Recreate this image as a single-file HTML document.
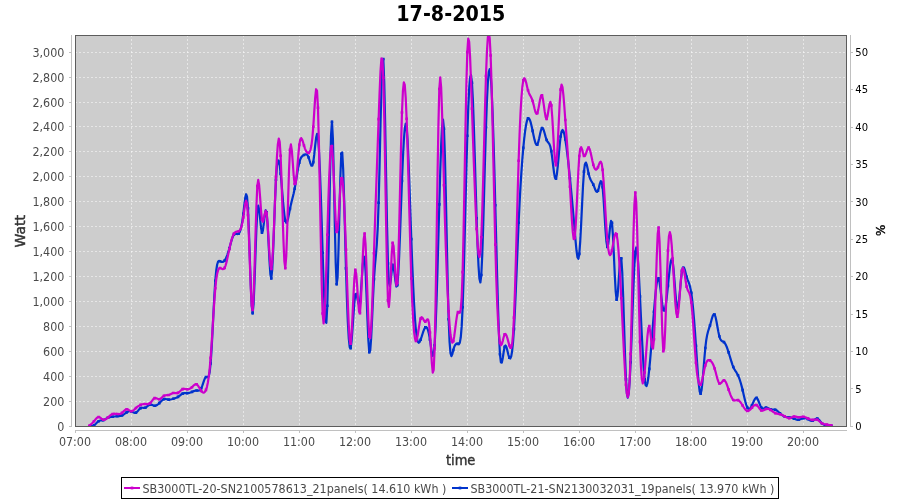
<!DOCTYPE html><html><head><meta charset="utf-8"><title>17-8-2015</title><style>html,body{margin:0;padding:0;background:#fff;width:900px;height:500px;overflow:hidden}svg{display:block}text{font-family:"DejaVu Sans","Liberation Sans",sans-serif}</style></head><body>
<svg width="900" height="500" viewBox="0 0 900 500">
<rect x="75" y="35" width="772" height="392" fill="#cdcdcd"/>
<path d="M75 401.50H847 M75 376.50H847 M75 351.50H847 M75 326.50H847 M75 301.50H847 M75 276.50H847 M75 251.50H847 M75 226.50H847 M75 201.50H847 M75 176.50H847 M75 151.50H847 M75 126.50H847 M75 102.50H847 M75 77.50H847 M75 52.50H847 M131.5 35V427 M187.5 35V427 M243.5 35V427 M299.5 35V427 M355.5 35V427 M411.5 35V427 M467.5 35V427 M523.5 35V427 M579.5 35V427 M635.5 35V427 M691.5 35V427 M747.5 35V427 M803.5 35V427" stroke="#fff" stroke-width="0.5" stroke-dasharray="2 2" fill="none"/>
<g clip-path="url(#clip)">
<path d="M89.30,426.00 L90.23,426.11 L91.17,426.17 L92.10,426.11 L93.03,425.87 L93.97,425.40 L94.90,424.67 L95.83,423.76 L96.77,422.80 L97.70,421.91 L98.63,421.20 L99.57,420.76 L100.50,420.53 L101.43,420.41 L102.37,420.30 L103.30,420.10 L104.23,419.74 L105.17,419.25 L106.10,418.71 L107.03,418.17 L107.97,417.70 L108.90,417.35 L109.83,417.10 L110.77,416.93 L111.70,416.81 L112.63,416.70 L113.57,416.59 L114.50,416.47 L115.43,416.36 L116.37,416.27 L117.30,416.20 L118.23,416.16 L119.17,416.12 L120.10,416.02 L121.03,415.83 L121.97,415.50 L122.90,415.01 L123.83,414.39 L124.77,413.71 L125.70,413.03 L126.63,412.40 L127.57,411.88 L128.50,411.49 L129.43,411.27 L130.37,411.23 L131.30,411.40 L132.23,411.77 L133.17,412.23 L134.10,412.62 L135.03,412.80 L135.97,412.60 L136.90,411.94 L137.83,410.97 L138.77,409.87 L139.70,408.85 L140.63,408.10 L141.57,407.76 L142.50,407.73 L143.43,407.82 L144.37,407.87 L145.30,407.70 L146.23,407.20 L147.17,406.47 L148.10,405.69 L149.03,405.01 L149.97,404.60 L150.90,404.58 L151.83,404.83 L152.77,405.23 L153.70,405.60 L154.63,405.80 L155.57,405.71 L156.50,405.35 L157.43,404.76 L158.37,404.00 L159.30,403.10 L160.23,402.13 L161.17,401.16 L162.10,400.28 L163.03,399.56 L163.97,399.10 L164.90,398.94 L165.83,399.01 L166.77,399.21 L167.70,399.44 L168.63,399.60 L169.57,399.61 L170.50,399.48 L171.43,399.26 L172.37,398.99 L173.30,398.70 L174.23,398.43 L175.17,398.15 L176.10,397.83 L177.03,397.42 L177.97,396.90 L178.90,396.24 L179.83,395.51 L180.77,394.77 L181.70,394.11 L182.63,393.60 L183.57,393.30 L184.50,393.16 L185.43,393.12 L186.37,393.12 L187.30,393.10 L188.23,393.00 L189.17,392.82 L190.10,392.57 L191.03,392.26 L191.97,391.90 L192.90,391.51 L193.83,391.12 L194.77,390.80 L195.70,390.57 L196.63,390.50 L197.57,390.58 L198.50,390.63 L199.43,390.40 L200.37,389.67 L201.30,388.20 L202.23,385.88 L203.17,383.09 L204.10,380.34 L205.03,378.14 L205.97,377.00 L206.90,377.09 L207.83,377.25 L208.77,376.02 L209.70,371.89 L210.63,363.40 L211.57,349.67 L212.50,332.32 L213.43,313.55 L214.37,295.61 L215.30,280.70 L216.23,270.51 L217.17,264.52 L218.10,261.67 L219.03,260.92 L219.97,261.20 L220.90,261.61 L221.83,261.88 L222.77,261.88 L223.70,261.49 L224.63,260.60 L225.57,259.11 L226.50,257.08 L227.43,254.58 L228.37,251.70 L229.30,248.50 L230.23,245.11 L231.17,241.75 L232.10,238.68 L233.03,236.18 L233.97,234.50 L234.90,233.79 L235.83,233.76 L236.77,234.01 L237.70,234.12 L238.63,233.70 L239.57,232.37 L240.50,229.91 L241.43,226.14 L242.37,220.86 L243.30,213.90 L244.23,205.55 L245.17,198.07 L246.10,194.21 L247.03,196.70 L247.97,208.30 L248.90,230.26 L249.83,257.90 L250.77,285.06 L251.70,305.58 L252.63,313.30 L253.57,304.19 L254.50,282.78 L255.43,255.74 L256.37,229.72 L257.30,211.40 L258.23,205.55 L259.17,209.42 L260.10,218.34 L261.03,227.69 L261.97,232.80 L262.90,230.48 L263.83,223.27 L264.77,215.19 L265.70,210.23 L266.63,212.40 L267.57,224.16 L268.50,241.84 L269.43,260.25 L270.37,274.21 L271.30,278.50 L272.23,269.59 L273.17,250.55 L274.10,226.09 L275.03,200.93 L275.97,179.80 L276.90,166.40 L277.83,160.41 L278.77,160.51 L279.70,165.34 L280.63,173.60 L281.57,183.95 L282.50,195.12 L283.43,205.83 L284.37,214.81 L285.30,220.80 L286.23,222.91 L287.17,221.76 L288.10,218.37 L289.03,213.74 L289.97,208.90 L290.90,204.62 L291.83,200.80 L292.77,197.09 L293.70,193.17 L294.63,188.70 L295.57,183.47 L296.50,177.80 L297.43,172.13 L298.37,166.92 L299.30,162.60 L300.23,159.51 L301.17,157.48 L302.10,156.24 L303.03,155.50 L303.97,155.00 L304.90,154.54 L305.83,154.30 L306.77,154.53 L307.70,155.51 L308.63,157.50 L309.57,160.52 L310.50,163.66 L311.43,165.74 L312.37,165.61 L313.30,162.10 L314.23,154.73 L315.17,145.67 L316.10,137.77 L317.03,133.90 L317.97,136.90 L318.90,148.81 L319.83,168.39 L320.77,193.59 L321.70,222.38 L322.63,252.70 L323.57,282.10 L324.50,306.55 L325.43,321.59 L326.37,322.79 L327.30,305.70 L328.23,268.53 L329.17,220.09 L330.10,171.84 L331.03,135.22 L331.97,121.70 L332.90,138.59 L333.83,176.67 L334.77,222.56 L335.70,262.89 L336.63,284.30 L337.57,277.52 L338.50,249.77 L339.43,212.35 L340.37,176.59 L341.30,153.80 L342.23,152.40 L343.17,169.23 L344.10,198.22 L345.03,233.30 L345.97,268.40 L346.90,298.39 L347.83,321.86 L348.77,338.30 L349.70,347.25 L350.63,348.20 L351.57,341.30 L352.50,329.22 L353.43,315.23 L354.37,302.63 L355.30,294.70 L356.23,293.63 L357.17,297.19 L358.10,302.04 L359.03,304.86 L359.97,302.30 L360.90,292.36 L361.83,278.32 L362.77,264.81 L363.70,256.43 L364.63,257.80 L365.57,271.77 L366.50,294.16 L367.43,319.01 L368.37,340.37 L369.30,352.30 L370.23,350.58 L371.17,337.95 L372.10,318.86 L373.03,297.79 L373.97,279.20 L374.90,266.14 L375.83,256.00 L376.77,244.75 L377.70,228.36 L378.63,202.80 L379.57,166.14 L380.50,124.86 L381.43,87.52 L382.37,62.71 L383.30,59.00 L384.23,81.81 L385.17,123.97 L386.10,175.17 L387.03,225.08 L387.97,263.40 L388.90,282.56 L389.83,286.04 L390.77,280.08 L391.70,270.92 L392.63,264.80 L393.57,266.26 L394.50,273.02 L395.43,281.10 L396.37,286.52 L397.30,285.30 L398.23,274.59 L399.17,256.02 L400.10,232.39 L401.03,206.46 L401.97,181.00 L402.90,158.55 L403.83,140.64 L404.77,128.60 L405.70,123.72 L406.63,127.30 L407.57,140.02 L408.50,160.04 L409.43,184.88 L410.37,212.06 L411.30,239.10 L412.23,263.89 L413.17,285.76 L414.10,304.39 L415.03,319.47 L415.97,330.70 L416.90,337.93 L417.83,341.72 L418.77,342.79 L419.70,341.87 L420.63,339.70 L421.57,336.93 L422.50,333.97 L423.43,331.17 L424.37,328.86 L425.30,327.40 L426.23,327.09 L427.17,328.06 L428.10,330.42 L429.03,334.26 L429.97,339.70 L430.90,346.43 L431.83,352.60 L432.77,355.95 L433.70,354.24 L434.63,345.20 L435.57,327.34 L436.50,302.11 L437.43,271.74 L438.37,238.43 L439.30,204.40 L440.23,172.08 L441.17,144.80 L442.10,126.12 L443.03,119.60 L443.97,128.80 L444.90,155.55 L445.83,194.76 L446.77,239.65 L447.70,283.39 L448.63,319.20 L449.57,341.93 L450.50,353.15 L451.43,356.08 L452.37,353.95 L453.30,350.00 L454.23,346.87 L455.17,344.92 L456.10,343.92 L457.03,343.66 L457.97,343.90 L458.90,344.12 L459.83,342.60 L460.77,337.29 L461.70,326.17 L462.63,307.20 L463.57,279.25 L464.50,244.78 L465.43,207.14 L466.37,169.70 L467.30,135.80 L468.23,108.37 L469.17,88.60 L470.10,77.24 L471.03,75.02 L471.97,82.70 L472.90,100.41 L473.83,125.80 L474.77,155.91 L475.70,187.76 L476.63,218.40 L477.57,245.06 L478.50,265.79 L479.43,278.85 L480.37,282.50 L481.30,275.00 L482.23,255.55 L483.17,227.12 L484.10,193.64 L485.03,159.03 L485.97,127.20 L486.90,101.50 L487.83,82.95 L488.77,71.99 L489.70,69.06 L490.63,74.60 L491.57,88.74 L492.50,110.33 L493.43,137.91 L494.37,170.02 L495.30,205.20 L496.23,241.81 L497.17,277.53 L498.10,309.85 L499.03,336.27 L499.97,354.30 L500.90,362.36 L501.83,362.58 L502.77,358.02 L503.70,351.74 L504.63,346.80 L505.57,345.52 L506.50,347.31 L507.43,350.82 L508.37,354.73 L509.30,357.70 L510.23,358.53 L511.17,356.59 L512.10,351.37 L513.03,342.37 L513.97,329.10 L514.90,311.38 L515.83,290.39 L516.77,267.61 L517.70,244.55 L518.63,222.70 L519.57,203.27 L520.50,186.32 L521.43,171.60 L522.37,158.87 L523.30,147.90 L524.23,138.50 L525.17,130.74 L526.10,124.72 L527.03,120.57 L527.97,118.40 L528.90,118.24 L529.83,119.79 L530.77,122.67 L531.70,126.50 L532.63,130.90 L533.57,135.45 L534.50,139.64 L535.43,142.93 L536.37,144.76 L537.30,144.60 L538.23,142.16 L539.17,138.23 L540.10,133.86 L541.03,130.10 L541.97,128.00 L542.90,128.30 L543.83,130.47 L544.77,133.70 L545.70,137.15 L546.63,140.00 L547.57,141.69 L548.50,142.79 L549.43,144.16 L550.37,146.65 L551.30,151.10 L552.23,157.94 L553.17,165.85 L554.10,173.11 L555.03,177.97 L555.97,178.70 L556.90,174.17 L557.83,165.74 L558.77,155.34 L559.70,144.94 L560.63,136.50 L561.57,131.55 L562.50,129.94 L563.43,131.11 L564.37,134.49 L565.30,139.50 L566.23,145.66 L567.17,152.75 L568.10,160.64 L569.03,169.21 L569.97,178.30 L570.90,187.81 L571.83,197.72 L572.77,208.01 L573.70,218.67 L574.63,229.70 L575.57,240.80 L576.50,250.52 L577.43,257.10 L578.37,258.81 L579.30,253.90 L580.23,241.45 L581.17,223.81 L582.10,204.17 L583.03,185.70 L583.97,171.60 L584.90,164.20 L585.83,162.53 L586.77,164.76 L587.70,169.09 L588.63,173.70 L589.57,177.15 L590.50,179.51 L591.43,181.24 L592.37,182.79 L593.30,184.60 L594.23,186.95 L595.17,189.39 L596.10,191.27 L597.03,191.95 L597.97,190.80 L598.90,187.59 L599.83,183.78 L600.77,181.21 L601.70,181.77 L602.63,187.30 L603.57,198.81 L604.50,213.84 L605.43,229.08 L606.37,241.21 L607.30,246.90 L608.23,244.12 L609.17,235.95 L610.10,226.75 L611.03,220.88 L611.97,222.70 L612.90,234.97 L613.83,254.05 L614.77,274.71 L615.70,291.70 L616.63,299.80 L617.57,295.64 L618.50,283.38 L619.43,269.05 L620.37,258.68 L621.30,258.30 L622.23,272.04 L623.17,296.42 L624.10,326.03 L625.03,355.49 L625.97,379.40 L626.90,393.45 L627.83,397.65 L628.77,393.11 L629.70,380.93 L630.63,362.20 L631.57,338.37 L632.50,312.26 L633.43,287.04 L634.37,265.86 L635.30,251.90 L636.23,247.48 L637.17,251.58 L638.10,262.35 L639.03,277.90 L639.97,296.40 L640.90,316.06 L641.83,335.49 L642.77,353.38 L643.70,368.42 L644.63,379.30 L645.57,385.06 L646.50,386.12 L647.43,383.26 L648.37,377.27 L649.30,368.90 L650.23,358.89 L651.17,347.72 L652.10,335.84 L653.03,323.69 L653.97,311.70 L654.90,300.38 L655.83,290.52 L656.77,282.97 L657.70,278.58 L658.63,278.20 L659.57,282.24 L660.50,289.29 L661.43,297.48 L662.37,304.97 L663.30,309.90 L664.23,310.84 L665.17,308.13 L666.10,302.56 L667.03,294.89 L667.97,285.90 L668.90,276.48 L669.83,267.90 L670.77,261.57 L671.70,258.88 L672.63,261.20 L673.57,269.23 L674.50,280.81 L675.43,293.09 L676.37,303.21 L677.30,308.30 L678.23,306.41 L679.17,299.19 L680.10,289.18 L681.03,278.93 L681.97,271.00 L682.90,267.30 L683.83,267.25 L684.77,269.64 L685.70,273.26 L686.63,276.90 L687.57,279.67 L688.50,281.96 L689.43,284.46 L690.37,287.87 L691.30,292.90 L692.23,300.07 L693.17,309.26 L694.10,320.14 L695.03,332.42 L695.97,345.80 L696.90,359.77 L697.83,373.04 L698.77,384.12 L699.70,391.54 L700.63,393.80 L701.57,390.00 L702.50,381.54 L703.43,370.40 L704.37,358.56 L705.30,348.00 L706.23,340.24 L707.17,334.93 L708.10,331.26 L709.03,328.42 L709.97,325.60 L710.90,322.24 L711.83,318.77 L712.77,315.88 L713.70,314.22 L714.63,314.50 L715.57,317.12 L716.50,321.48 L717.43,326.69 L718.37,331.89 L719.30,336.20 L720.23,338.98 L721.17,340.47 L722.10,341.17 L723.03,341.55 L723.97,342.10 L724.90,343.20 L725.83,344.86 L726.77,347.00 L727.70,349.54 L728.63,352.40 L729.57,355.48 L730.50,358.64 L731.43,361.72 L732.37,364.56 L733.30,367.00 L734.23,368.94 L735.17,370.53 L736.10,371.97 L737.03,373.46 L737.97,375.20 L738.90,377.37 L739.83,379.96 L740.77,382.97 L741.70,386.36 L742.63,390.10 L743.57,394.13 L744.50,398.18 L745.43,401.96 L746.37,405.17 L747.30,407.50 L748.23,408.73 L749.17,408.95 L750.10,408.32 L751.03,407.02 L751.97,405.20 L752.90,403.07 L753.83,400.94 L754.77,399.14 L755.70,398.01 L756.63,397.90 L757.57,399.01 L758.50,400.99 L759.43,403.39 L760.37,405.71 L761.30,407.50 L762.23,408.40 L763.17,408.57 L764.10,408.30 L765.03,407.88 L765.97,407.60 L766.90,407.67 L767.83,408.02 L768.77,408.51 L769.70,409.02 L770.63,409.40 L771.57,409.56 L772.50,409.55 L773.43,409.51 L774.37,409.52 L775.30,409.70 L776.23,410.13 L777.17,410.77 L778.10,411.56 L779.03,412.43 L779.97,413.30 L780.90,414.12 L781.83,414.87 L782.77,415.53 L783.70,416.08 L784.63,416.50 L785.57,416.79 L786.50,416.97 L787.43,417.09 L788.37,417.19 L789.30,417.30 L790.23,417.46 L791.17,417.68 L792.10,417.94 L793.03,418.25 L793.97,418.60 L794.90,418.98 L795.83,419.34 L796.77,419.64 L797.70,419.81 L798.63,419.80 L799.57,419.58 L800.50,419.22 L801.43,418.79 L802.37,418.39 L803.30,418.10 L804.23,417.99 L805.17,418.05 L806.10,418.27 L807.03,418.63 L807.97,419.10 L808.90,419.65 L809.83,420.20 L810.77,420.64 L811.70,420.87 L812.63,420.80 L813.57,420.37 L814.50,419.74 L815.43,419.10 L816.37,418.66 L817.30,418.60 L818.23,419.07 L819.17,419.95 L820.10,421.07 L821.03,422.25 L821.97,423.30 L822.90,424.09 L823.83,424.65 L824.77,425.01 L825.70,425.24 L826.63,425.40 L827.57,425.53 L828.50,425.63 L829.43,425.73 L830.37,425.82 L831.30,425.90" fill="none" stroke="#0033cc" stroke-width="2.2" stroke-linejoin="round" stroke-linecap="round"/>
<path d="M92.67 424.10h2.6v2.6h-2.6zM97.33 419.90h2.6v2.6h-2.6zM102.00 418.80h2.6v2.6h-2.6zM106.67 416.40h2.6v2.6h-2.6zM111.33 415.40h2.6v2.6h-2.6zM116.00 414.90h2.6v2.6h-2.6zM120.67 414.20h2.6v2.6h-2.6zM125.33 411.10h2.6v2.6h-2.6zM130.00 410.10h2.6v2.6h-2.6zM134.67 411.30h2.6v2.6h-2.6zM139.33 406.80h2.6v2.6h-2.6zM144.00 406.40h2.6v2.6h-2.6zM148.67 403.30h2.6v2.6h-2.6zM153.33 404.50h2.6v2.6h-2.6zM158.00 401.80h2.6v2.6h-2.6zM162.67 397.80h2.6v2.6h-2.6zM167.33 398.30h2.6v2.6h-2.6zM172.00 397.40h2.6v2.6h-2.6zM176.67 395.60h2.6v2.6h-2.6zM181.33 392.30h2.6v2.6h-2.6zM186.00 391.80h2.6v2.6h-2.6zM190.67 390.60h2.6v2.6h-2.6zM195.33 389.20h2.6v2.6h-2.6zM200.00 386.90h2.6v2.6h-2.6zM204.67 375.70h2.6v2.6h-2.6zM209.33 362.10h2.6v2.6h-2.6zM214.00 279.40h2.6v2.6h-2.6zM218.67 259.90h2.6v2.6h-2.6zM223.33 259.30h2.6v2.6h-2.6zM228.00 247.20h2.6v2.6h-2.6zM232.67 233.20h2.6v2.6h-2.6zM237.33 232.40h2.6v2.6h-2.6zM242.00 212.60h2.6v2.6h-2.6zM246.67 207.00h2.6v2.6h-2.6zM251.33 312.00h2.6v2.6h-2.6zM256.00 210.10h2.6v2.6h-2.6zM260.67 231.50h2.6v2.6h-2.6zM265.33 211.10h2.6v2.6h-2.6zM270.00 277.20h2.6v2.6h-2.6zM274.67 178.50h2.6v2.6h-2.6zM279.33 172.30h2.6v2.6h-2.6zM284.00 219.50h2.6v2.6h-2.6zM288.67 207.60h2.6v2.6h-2.6zM293.33 187.40h2.6v2.6h-2.6zM298.00 161.30h2.6v2.6h-2.6zM302.67 153.70h2.6v2.6h-2.6zM307.33 156.20h2.6v2.6h-2.6zM312.00 160.80h2.6v2.6h-2.6zM316.67 135.60h2.6v2.6h-2.6zM321.33 251.40h2.6v2.6h-2.6zM326.00 304.40h2.6v2.6h-2.6zM330.67 120.40h2.6v2.6h-2.6zM335.33 283.00h2.6v2.6h-2.6zM340.00 152.50h2.6v2.6h-2.6zM344.67 267.10h2.6v2.6h-2.6zM349.33 346.90h2.6v2.6h-2.6zM354.00 293.40h2.6v2.6h-2.6zM358.67 301.00h2.6v2.6h-2.6zM363.33 256.50h2.6v2.6h-2.6zM368.00 351.00h2.6v2.6h-2.6zM372.67 277.90h2.6v2.6h-2.6zM377.33 201.50h2.6v2.6h-2.6zM382.00 57.70h2.6v2.6h-2.6zM386.67 262.10h2.6v2.6h-2.6zM391.33 263.50h2.6v2.6h-2.6zM396.00 284.00h2.6v2.6h-2.6zM400.67 179.70h2.6v2.6h-2.6zM405.33 126.00h2.6v2.6h-2.6zM410.00 237.80h2.6v2.6h-2.6zM414.67 329.40h2.6v2.6h-2.6zM419.33 338.40h2.6v2.6h-2.6zM424.00 326.10h2.6v2.6h-2.6zM428.67 338.40h2.6v2.6h-2.6zM433.33 343.90h2.6v2.6h-2.6zM438.00 203.10h2.6v2.6h-2.6zM442.67 127.50h2.6v2.6h-2.6zM447.33 317.90h2.6v2.6h-2.6zM452.00 348.70h2.6v2.6h-2.6zM456.67 342.60h2.6v2.6h-2.6zM461.33 305.90h2.6v2.6h-2.6zM466.00 134.50h2.6v2.6h-2.6zM470.67 81.40h2.6v2.6h-2.6zM475.33 217.10h2.6v2.6h-2.6zM480.00 273.70h2.6v2.6h-2.6zM484.67 125.90h2.6v2.6h-2.6zM489.33 73.30h2.6v2.6h-2.6zM494.00 203.90h2.6v2.6h-2.6zM498.67 353.00h2.6v2.6h-2.6zM503.33 345.50h2.6v2.6h-2.6zM508.00 356.40h2.6v2.6h-2.6zM512.67 327.80h2.6v2.6h-2.6zM517.33 221.40h2.6v2.6h-2.6zM522.00 146.60h2.6v2.6h-2.6zM526.67 117.10h2.6v2.6h-2.6zM531.33 129.60h2.6v2.6h-2.6zM536.00 143.30h2.6v2.6h-2.6zM540.67 126.70h2.6v2.6h-2.6zM545.33 138.70h2.6v2.6h-2.6zM550.00 149.80h2.6v2.6h-2.6zM554.67 177.40h2.6v2.6h-2.6zM559.33 135.20h2.6v2.6h-2.6zM564.00 138.20h2.6v2.6h-2.6zM568.67 177.00h2.6v2.6h-2.6zM573.33 228.40h2.6v2.6h-2.6zM578.00 252.60h2.6v2.6h-2.6zM582.67 170.30h2.6v2.6h-2.6zM587.33 172.40h2.6v2.6h-2.6zM592.00 183.30h2.6v2.6h-2.6zM596.67 189.50h2.6v2.6h-2.6zM601.33 186.00h2.6v2.6h-2.6zM606.00 245.60h2.6v2.6h-2.6zM610.67 221.40h2.6v2.6h-2.6zM615.33 298.50h2.6v2.6h-2.6zM620.00 257.00h2.6v2.6h-2.6zM624.67 378.10h2.6v2.6h-2.6zM629.33 360.90h2.6v2.6h-2.6zM634.00 250.60h2.6v2.6h-2.6zM638.67 295.10h2.6v2.6h-2.6zM643.33 378.00h2.6v2.6h-2.6zM648.00 367.60h2.6v2.6h-2.6zM652.67 310.40h2.6v2.6h-2.6zM657.33 276.90h2.6v2.6h-2.6zM662.00 308.60h2.6v2.6h-2.6zM666.67 284.60h2.6v2.6h-2.6zM671.33 259.90h2.6v2.6h-2.6zM676.00 307.00h2.6v2.6h-2.6zM680.67 269.70h2.6v2.6h-2.6zM685.33 275.60h2.6v2.6h-2.6zM690.00 291.60h2.6v2.6h-2.6zM694.67 344.50h2.6v2.6h-2.6zM699.33 392.50h2.6v2.6h-2.6zM704.00 346.70h2.6v2.6h-2.6zM708.67 324.30h2.6v2.6h-2.6zM713.33 313.20h2.6v2.6h-2.6zM718.00 334.90h2.6v2.6h-2.6zM722.67 340.80h2.6v2.6h-2.6zM727.33 351.10h2.6v2.6h-2.6zM732.00 365.70h2.6v2.6h-2.6zM736.67 373.90h2.6v2.6h-2.6zM741.33 388.80h2.6v2.6h-2.6zM746.00 406.20h2.6v2.6h-2.6zM750.67 403.90h2.6v2.6h-2.6zM755.33 396.60h2.6v2.6h-2.6zM760.00 406.20h2.6v2.6h-2.6zM764.67 406.30h2.6v2.6h-2.6zM769.33 408.10h2.6v2.6h-2.6zM774.00 408.40h2.6v2.6h-2.6zM778.67 412.00h2.6v2.6h-2.6zM783.33 415.20h2.6v2.6h-2.6zM788.00 416.00h2.6v2.6h-2.6zM792.67 417.30h2.6v2.6h-2.6zM797.33 418.50h2.6v2.6h-2.6zM802.00 416.80h2.6v2.6h-2.6zM806.67 417.80h2.6v2.6h-2.6zM811.33 419.50h2.6v2.6h-2.6zM816.00 417.30h2.6v2.6h-2.6zM820.67 422.00h2.6v2.6h-2.6zM825.33 424.10h2.6v2.6h-2.6zM830.00 424.60h2.6v2.6h-2.6z" fill="#0033cc"/>
<path d="M89.30,425.70 L90.23,424.93 L91.17,424.13 L92.10,423.28 L93.03,422.35 L93.97,421.30 L94.90,420.15 L95.83,419.00 L96.77,417.99 L97.70,417.28 L98.63,417.00 L99.57,417.24 L100.50,417.84 L101.43,418.60 L102.37,419.33 L103.30,419.80 L104.23,419.87 L105.17,419.57 L106.10,419.00 L107.03,418.24 L107.97,417.40 L108.90,416.55 L109.83,415.74 L110.77,415.01 L111.70,414.42 L112.63,414.00 L113.57,413.78 L114.50,413.72 L115.43,413.78 L116.37,413.89 L117.30,414.00 L118.23,414.06 L119.17,414.03 L120.10,413.85 L121.03,413.49 L121.97,412.90 L122.90,412.07 L123.83,411.12 L124.77,410.22 L125.70,409.53 L126.63,409.20 L127.57,409.34 L128.50,409.81 L129.43,410.41 L130.37,410.94 L131.30,411.20 L132.23,411.04 L133.17,410.53 L134.10,409.77 L135.03,408.89 L135.97,408.00 L136.90,407.19 L137.83,406.48 L138.77,405.87 L139.70,405.34 L140.63,404.90 L141.57,404.54 L142.50,404.27 L143.43,404.08 L144.37,403.99 L145.30,404.00 L146.23,404.09 L147.17,404.18 L148.10,404.15 L149.03,403.90 L149.97,403.30 L150.90,402.31 L151.83,401.08 L152.77,399.82 L153.70,398.76 L154.63,398.10 L155.57,397.99 L156.50,398.26 L157.43,398.71 L158.37,399.10 L159.30,399.20 L160.23,398.86 L161.17,398.18 L162.10,397.33 L163.03,396.48 L163.97,395.80 L164.90,395.41 L165.83,395.25 L166.77,395.20 L167.70,395.16 L168.63,395.00 L169.57,394.66 L170.50,394.18 L171.43,393.69 L172.37,393.26 L173.30,393.00 L174.23,392.97 L175.17,393.07 L176.10,393.18 L177.03,393.17 L177.97,392.90 L178.90,392.29 L179.83,391.46 L180.77,390.54 L181.70,389.71 L182.63,389.10 L183.57,388.83 L184.50,388.83 L185.43,388.99 L186.37,389.18 L187.30,389.30 L188.23,389.25 L189.17,389.01 L190.10,388.59 L191.03,387.99 L191.97,387.20 L192.90,386.26 L193.83,385.32 L194.77,384.56 L195.70,384.16 L196.63,384.30 L197.57,385.09 L198.50,386.37 L199.43,387.94 L200.37,389.55 L201.30,391.00 L202.23,392.08 L203.17,392.63 L204.10,392.54 L205.03,391.68 L205.97,389.90 L206.90,387.04 L207.83,382.78 L208.77,376.75 L209.70,368.58 L210.63,357.90 L211.57,344.62 L212.50,329.75 L213.43,314.55 L214.37,300.31 L215.30,288.30 L216.23,279.49 L217.17,273.62 L218.10,270.13 L219.03,268.44 L219.97,268.00 L220.90,268.26 L221.83,268.79 L222.77,269.18 L223.70,269.02 L224.63,267.90 L225.57,265.54 L226.50,262.15 L227.43,258.07 L228.37,253.64 L229.30,249.20 L230.23,245.05 L231.17,241.31 L232.10,238.10 L233.03,235.50 L233.97,233.60 L234.90,232.45 L235.83,231.87 L236.77,231.62 L237.70,231.48 L238.63,231.20 L239.57,230.54 L240.50,229.17 L241.43,226.75 L242.37,222.94 L243.30,217.40 L244.23,210.29 L245.17,203.80 L246.10,200.62 L247.03,203.46 L247.97,215.00 L248.90,236.45 L249.83,262.98 L250.77,288.30 L251.70,306.07 L252.63,310.00 L253.57,296.05 L254.50,269.30 L255.43,237.15 L256.37,206.96 L257.30,186.10 L258.23,179.87 L259.17,185.24 L260.10,197.10 L261.03,210.32 L261.97,219.80 L262.90,221.87 L263.83,218.66 L264.77,213.74 L265.70,210.70 L266.63,213.10 L267.57,223.22 L268.50,238.12 L269.43,253.55 L270.37,265.26 L271.30,269.00 L272.23,261.78 L273.17,245.64 L274.10,223.88 L275.03,199.80 L275.97,176.70 L276.90,157.59 L277.83,144.35 L278.77,138.56 L279.70,141.81 L280.63,155.70 L281.57,180.43 L282.50,210.72 L283.43,239.89 L284.37,261.27 L285.30,268.20 L286.23,256.38 L287.17,231.03 L288.10,199.77 L289.03,170.19 L289.97,149.90 L290.90,144.34 L291.83,150.33 L292.77,162.50 L293.70,175.51 L294.63,184.00 L295.57,184.01 L296.50,177.13 L297.43,166.33 L298.37,154.60 L299.30,144.90 L300.23,139.53 L301.17,138.04 L302.10,139.30 L303.03,142.16 L303.97,145.50 L304.90,148.37 L305.83,150.56 L306.77,152.05 L307.70,152.84 L308.63,152.90 L309.57,152.10 L310.50,149.81 L311.43,145.31 L312.37,137.85 L313.30,126.70 L314.23,112.07 L315.17,97.93 L316.10,89.22 L317.03,90.87 L317.97,107.80 L318.90,142.70 L319.83,189.26 L320.77,238.95 L321.70,283.21 L322.63,313.50 L323.57,323.50 L324.50,315.81 L325.43,295.25 L326.37,266.64 L327.30,234.80 L328.23,204.16 L329.17,177.54 L330.10,157.36 L331.03,146.04 L331.97,146.00 L332.90,158.32 L333.83,178.71 L334.77,201.54 L335.70,221.18 L336.63,232.00 L337.57,230.14 L338.50,218.83 L339.43,203.07 L340.37,187.86 L341.30,178.20 L342.23,177.99 L343.17,186.68 L344.10,202.61 L345.03,224.14 L345.97,249.60 L346.90,277.07 L347.83,303.51 L348.77,325.62 L349.70,340.09 L350.63,343.60 L351.57,334.36 L352.50,316.62 L353.43,296.13 L354.37,278.64 L355.30,269.90 L356.23,273.71 L357.17,285.98 L358.10,300.67 L359.03,311.72 L359.97,313.10 L360.90,300.91 L361.83,279.93 L362.77,257.08 L363.70,239.29 L364.63,233.50 L365.57,244.31 L366.50,267.02 L367.43,294.62 L368.37,320.08 L369.30,336.40 L370.23,338.29 L371.17,327.47 L372.10,307.38 L373.03,281.47 L373.97,253.20 L374.90,225.39 L375.83,198.37 L376.77,171.84 L377.70,145.52 L378.63,119.10 L379.57,93.11 L380.50,71.36 L381.43,58.44 L382.37,58.98 L383.30,77.60 L384.23,116.48 L385.17,168.12 L386.10,222.61 L387.03,270.01 L387.97,300.40 L388.90,307.01 L389.83,295.61 L390.77,275.16 L391.70,254.58 L392.63,242.80 L393.57,246.00 L394.50,259.27 L395.43,274.97 L396.37,285.43 L397.30,283.00 L398.23,262.44 L399.17,228.22 L400.10,187.23 L401.03,146.36 L401.97,112.50 L402.90,91.17 L403.83,82.44 L404.77,85.00 L405.70,97.56 L406.63,118.80 L407.57,147.18 L408.50,180.14 L409.43,214.88 L410.37,248.60 L411.30,278.50 L412.23,302.32 L413.17,320.00 L414.10,332.02 L415.03,338.86 L415.97,341.00 L416.90,339.09 L417.83,334.43 L418.77,328.48 L419.70,322.72 L420.63,318.60 L421.57,317.18 L422.50,317.82 L423.43,319.49 L424.37,321.13 L425.30,321.70 L426.23,320.64 L427.17,319.32 L428.10,319.61 L429.03,323.38 L429.97,332.50 L430.90,347.42 L431.83,363.01 L432.77,372.72 L433.70,369.99 L434.63,348.30 L435.57,303.99 L436.50,245.03 L437.43,182.30 L438.37,126.67 L439.30,89.00 L440.23,77.25 L441.17,87.67 L442.10,113.59 L443.03,148.36 L443.97,185.30 L444.90,218.88 L445.83,248.13 L446.77,273.20 L447.70,294.23 L448.63,311.40 L449.57,324.82 L450.50,334.52 L451.43,340.48 L452.37,342.71 L453.30,341.20 L454.23,336.21 L455.17,329.14 L456.10,321.66 L457.03,315.42 L457.97,312.10 L458.90,312.36 L459.83,312.84 L460.77,309.20 L461.70,297.07 L462.63,272.10 L463.57,231.93 L464.50,182.20 L465.43,130.56 L466.37,84.65 L467.30,52.10 L468.23,38.57 L469.17,41.75 L470.10,57.35 L471.03,81.07 L471.97,108.60 L472.90,136.26 L473.83,162.79 L474.77,187.51 L475.70,209.77 L476.63,228.90 L477.57,244.11 L478.50,254.04 L479.43,257.19 L480.37,252.08 L481.30,237.20 L482.23,211.96 L483.17,179.35 L484.10,143.25 L485.03,107.54 L485.97,76.10 L486.90,52.31 L487.83,37.52 L488.77,32.56 L489.70,38.27 L490.63,55.50 L491.57,84.28 L492.50,121.50 L493.43,163.24 L494.37,205.57 L495.30,244.60 L496.23,277.12 L497.17,302.80 L498.10,322.04 L499.03,335.25 L499.97,342.80 L500.90,345.30 L501.83,344.13 L502.77,340.87 L503.70,337.10 L504.63,334.40 L505.57,333.98 L506.50,335.53 L507.43,338.39 L508.37,341.87 L509.30,345.30 L510.23,347.84 L511.17,348.00 L512.10,344.12 L513.03,334.54 L513.97,317.60 L514.90,292.42 L515.83,261.19 L516.77,226.85 L517.70,192.37 L518.63,160.70 L519.57,134.25 L520.50,113.28 L521.43,97.49 L522.37,86.59 L523.30,80.30 L524.23,78.18 L525.17,79.24 L526.10,82.35 L527.03,86.38 L527.97,90.20 L528.90,92.96 L529.83,94.90 L530.77,96.54 L531.70,98.40 L532.63,101.00 L533.57,104.62 L534.50,108.57 L535.43,111.95 L536.37,113.83 L537.30,113.30 L538.23,109.86 L539.17,104.71 L540.10,99.47 L541.03,95.76 L541.97,95.20 L542.90,98.79 L543.83,105.06 L544.77,111.91 L545.70,117.26 L546.63,119.00 L547.57,115.89 L548.50,110.03 L549.43,104.36 L550.37,101.84 L551.30,105.40 L552.23,116.78 L553.17,132.82 L554.10,149.15 L555.03,161.40 L555.97,165.20 L556.90,157.66 L557.83,141.82 L558.77,122.19 L559.70,103.27 L560.63,89.60 L561.57,84.57 L562.50,87.20 L563.43,95.38 L564.37,107.01 L565.30,120.00 L566.23,132.68 L567.17,145.16 L568.10,157.97 L569.03,171.63 L569.97,186.70 L570.90,203.19 L571.83,219.11 L572.77,231.94 L573.70,239.17 L574.63,238.30 L575.57,227.86 L576.50,210.61 L577.43,190.34 L578.37,170.87 L579.30,156.00 L580.23,148.51 L581.17,147.08 L582.10,149.39 L583.03,153.11 L583.97,155.90 L584.90,156.02 L585.83,154.06 L586.77,151.21 L587.70,148.66 L588.63,147.60 L589.57,148.88 L590.50,152.03 L591.43,156.27 L592.37,160.79 L593.30,164.80 L594.23,167.65 L595.17,169.26 L596.10,169.68 L597.03,168.97 L597.97,167.20 L598.90,164.63 L599.83,162.33 L600.77,161.58 L601.70,163.68 L602.63,169.90 L603.57,180.98 L604.50,195.49 L605.43,211.44 L606.37,226.87 L607.30,239.80 L608.23,248.67 L609.17,253.60 L610.10,255.17 L611.03,253.92 L611.97,250.40 L612.90,245.30 L613.83,239.83 L614.77,235.30 L615.70,233.05 L616.63,234.40 L617.57,240.34 L618.50,250.46 L619.43,264.00 L620.37,280.20 L621.30,298.30 L622.23,317.50 L623.17,336.81 L624.10,355.18 L625.03,371.55 L625.97,384.90 L626.90,394.04 L627.83,397.31 L628.77,392.91 L629.70,379.04 L630.63,353.90 L631.57,317.27 L632.50,275.19 L633.43,235.29 L634.37,205.19 L635.30,192.50 L636.23,202.33 L637.17,229.69 L638.10,267.08 L639.03,306.98 L639.97,341.90 L640.90,365.88 L641.83,379.14 L642.77,383.48 L643.70,380.67 L644.63,372.50 L645.57,360.85 L646.50,348.00 L647.43,336.33 L648.37,328.24 L649.30,326.10 L650.23,331.11 L651.17,339.70 L652.10,347.10 L653.03,348.56 L653.97,339.30 L654.90,316.66 L655.83,286.36 L656.77,256.19 L657.70,233.97 L658.63,227.50 L659.57,241.76 L660.50,270.42 L661.43,304.32 L662.37,334.30 L663.30,351.20 L664.23,348.52 L665.17,330.36 L666.10,303.47 L667.03,274.60 L667.97,250.50 L668.90,236.49 L669.83,232.16 L670.77,235.63 L671.70,245.07 L672.63,258.60 L673.57,274.33 L674.50,290.16 L675.43,303.95 L676.37,313.54 L677.30,316.80 L678.23,312.43 L679.17,302.59 L680.10,290.28 L681.03,278.52 L681.97,270.30 L682.90,267.83 L683.83,270.08 L684.77,275.18 L685.70,281.31 L686.63,286.60 L687.57,289.74 L688.50,291.55 L689.43,293.37 L690.37,296.54 L691.30,302.40 L692.23,311.85 L693.17,323.97 L694.10,337.39 L695.03,350.76 L695.97,362.70 L696.90,372.10 L697.83,378.86 L698.77,383.10 L699.70,384.97 L700.63,384.60 L701.57,382.23 L702.50,378.44 L703.43,373.92 L704.37,369.35 L705.30,365.40 L706.23,362.61 L707.17,360.92 L708.10,360.13 L709.03,360.02 L709.97,360.40 L710.90,361.10 L711.83,362.18 L712.77,363.71 L713.70,365.78 L714.63,368.50 L715.57,371.85 L716.50,375.48 L717.43,378.91 L718.37,381.71 L719.30,383.40 L720.23,383.70 L721.17,382.99 L722.10,381.81 L723.03,380.70 L723.97,380.20 L724.90,380.73 L725.83,382.17 L726.77,384.29 L727.70,386.85 L728.63,389.60 L729.57,392.32 L730.50,394.86 L731.43,397.07 L732.37,398.83 L733.30,400.00 L734.23,400.50 L735.17,400.51 L736.10,400.29 L737.03,400.07 L737.97,400.10 L738.90,400.57 L739.83,401.44 L740.77,402.62 L741.70,404.00 L742.63,405.50 L743.57,407.02 L744.50,408.44 L745.43,409.65 L746.37,410.54 L747.30,411.00 L748.23,410.95 L749.17,410.47 L750.10,409.67 L751.03,408.68 L751.97,407.60 L752.90,406.56 L753.83,405.67 L754.77,405.05 L755.70,404.82 L756.63,405.10 L757.57,405.94 L758.50,407.16 L759.43,408.49 L760.37,409.69 L761.30,410.50 L762.23,410.74 L763.17,410.53 L764.10,410.04 L765.03,409.47 L765.97,409.00 L766.90,408.78 L767.83,408.81 L768.77,409.04 L769.70,409.46 L770.63,410.00 L771.57,410.64 L772.50,411.32 L773.43,411.99 L774.37,412.60 L775.30,413.10 L776.23,413.44 L777.17,413.67 L778.10,413.84 L779.03,414.00 L779.97,414.20 L780.90,414.49 L781.83,414.85 L782.77,415.29 L783.70,415.78 L784.63,416.30 L785.57,416.84 L786.50,417.35 L787.43,417.77 L788.37,418.04 L789.30,418.10 L790.23,417.93 L791.17,417.60 L792.10,417.20 L793.03,416.83 L793.97,416.60 L794.90,416.57 L795.83,416.69 L796.77,416.89 L797.70,417.08 L798.63,417.20 L799.57,417.18 L800.50,417.07 L801.43,416.92 L802.37,416.81 L803.30,416.80 L804.23,416.93 L805.17,417.19 L806.10,417.54 L807.03,417.95 L807.97,418.40 L808.90,418.84 L809.83,419.25 L810.77,419.58 L811.70,419.81 L812.63,419.90 L813.57,419.84 L814.50,419.70 L815.43,419.58 L816.37,419.58 L817.30,419.80 L818.23,420.30 L819.17,421.01 L820.10,421.82 L821.03,422.62 L821.97,423.30 L822.90,423.78 L823.83,424.09 L824.77,424.28 L825.70,424.39 L826.63,424.50 L827.57,424.63 L828.50,424.80 L829.43,424.99 L830.37,425.19 L831.30,425.40" fill="none" stroke="#cc00cc" stroke-width="2.2" stroke-linejoin="round" stroke-linecap="round"/>
<path d="M88.00 424.40h2.6v2.6h-2.6zM92.67 420.00h2.6v2.6h-2.6zM97.33 415.70h2.6v2.6h-2.6zM102.00 418.50h2.6v2.6h-2.6zM106.67 416.10h2.6v2.6h-2.6zM111.33 412.70h2.6v2.6h-2.6zM116.00 412.70h2.6v2.6h-2.6zM120.67 411.60h2.6v2.6h-2.6zM125.33 407.90h2.6v2.6h-2.6zM130.00 409.90h2.6v2.6h-2.6zM134.67 406.70h2.6v2.6h-2.6zM139.33 403.60h2.6v2.6h-2.6zM144.00 402.70h2.6v2.6h-2.6zM148.67 402.00h2.6v2.6h-2.6zM153.33 396.80h2.6v2.6h-2.6zM158.00 397.90h2.6v2.6h-2.6zM162.67 394.50h2.6v2.6h-2.6zM167.33 393.70h2.6v2.6h-2.6zM172.00 391.70h2.6v2.6h-2.6zM176.67 391.60h2.6v2.6h-2.6zM181.33 387.80h2.6v2.6h-2.6zM186.00 388.00h2.6v2.6h-2.6zM190.67 385.90h2.6v2.6h-2.6zM195.33 383.00h2.6v2.6h-2.6zM200.00 389.70h2.6v2.6h-2.6zM204.67 388.60h2.6v2.6h-2.6zM209.33 356.60h2.6v2.6h-2.6zM214.00 287.00h2.6v2.6h-2.6zM218.67 266.70h2.6v2.6h-2.6zM223.33 266.60h2.6v2.6h-2.6zM228.00 247.90h2.6v2.6h-2.6zM232.67 232.30h2.6v2.6h-2.6zM237.33 229.90h2.6v2.6h-2.6zM242.00 216.10h2.6v2.6h-2.6zM246.67 213.70h2.6v2.6h-2.6zM251.33 308.70h2.6v2.6h-2.6zM256.00 184.80h2.6v2.6h-2.6zM260.67 218.50h2.6v2.6h-2.6zM265.33 211.80h2.6v2.6h-2.6zM270.00 267.70h2.6v2.6h-2.6zM274.67 175.40h2.6v2.6h-2.6zM279.33 154.40h2.6v2.6h-2.6zM284.00 266.90h2.6v2.6h-2.6zM288.67 148.60h2.6v2.6h-2.6zM293.33 182.70h2.6v2.6h-2.6zM298.00 143.60h2.6v2.6h-2.6zM302.67 144.20h2.6v2.6h-2.6zM307.33 151.60h2.6v2.6h-2.6zM312.00 125.40h2.6v2.6h-2.6zM316.67 106.50h2.6v2.6h-2.6zM321.33 312.20h2.6v2.6h-2.6zM326.00 233.50h2.6v2.6h-2.6zM330.67 144.70h2.6v2.6h-2.6zM335.33 230.70h2.6v2.6h-2.6zM340.00 176.90h2.6v2.6h-2.6zM344.67 248.30h2.6v2.6h-2.6zM349.33 342.30h2.6v2.6h-2.6zM354.00 268.60h2.6v2.6h-2.6zM358.67 311.80h2.6v2.6h-2.6zM363.33 232.20h2.6v2.6h-2.6zM368.00 335.10h2.6v2.6h-2.6zM372.67 251.90h2.6v2.6h-2.6zM377.33 117.80h2.6v2.6h-2.6zM382.00 76.30h2.6v2.6h-2.6zM386.67 299.10h2.6v2.6h-2.6zM391.33 241.50h2.6v2.6h-2.6zM396.00 281.70h2.6v2.6h-2.6zM400.67 111.20h2.6v2.6h-2.6zM405.33 117.50h2.6v2.6h-2.6zM410.00 277.20h2.6v2.6h-2.6zM414.67 339.70h2.6v2.6h-2.6zM419.33 317.30h2.6v2.6h-2.6zM424.00 320.40h2.6v2.6h-2.6zM428.67 331.20h2.6v2.6h-2.6zM433.33 347.00h2.6v2.6h-2.6zM438.00 87.70h2.6v2.6h-2.6zM442.67 184.00h2.6v2.6h-2.6zM447.33 310.10h2.6v2.6h-2.6zM452.00 339.90h2.6v2.6h-2.6zM456.67 310.80h2.6v2.6h-2.6zM461.33 270.80h2.6v2.6h-2.6zM466.00 50.80h2.6v2.6h-2.6zM470.67 107.30h2.6v2.6h-2.6zM475.33 227.60h2.6v2.6h-2.6zM480.00 235.90h2.6v2.6h-2.6zM484.67 74.80h2.6v2.6h-2.6zM489.33 54.20h2.6v2.6h-2.6zM494.00 243.30h2.6v2.6h-2.6zM498.67 341.50h2.6v2.6h-2.6zM503.33 333.10h2.6v2.6h-2.6zM508.00 344.00h2.6v2.6h-2.6zM512.67 316.30h2.6v2.6h-2.6zM517.33 159.40h2.6v2.6h-2.6zM522.00 79.00h2.6v2.6h-2.6zM526.67 88.90h2.6v2.6h-2.6zM531.33 99.70h2.6v2.6h-2.6zM536.00 112.00h2.6v2.6h-2.6zM540.67 93.90h2.6v2.6h-2.6zM545.33 117.70h2.6v2.6h-2.6zM550.00 104.10h2.6v2.6h-2.6zM554.67 163.90h2.6v2.6h-2.6zM559.33 88.30h2.6v2.6h-2.6zM564.00 118.70h2.6v2.6h-2.6zM568.67 185.40h2.6v2.6h-2.6zM573.33 237.00h2.6v2.6h-2.6zM578.00 154.70h2.6v2.6h-2.6zM582.67 154.60h2.6v2.6h-2.6zM587.33 146.30h2.6v2.6h-2.6zM592.00 163.50h2.6v2.6h-2.6zM596.67 165.90h2.6v2.6h-2.6zM601.33 168.60h2.6v2.6h-2.6zM606.00 238.50h2.6v2.6h-2.6zM610.67 249.10h2.6v2.6h-2.6zM615.33 233.10h2.6v2.6h-2.6zM620.00 297.00h2.6v2.6h-2.6zM624.67 383.60h2.6v2.6h-2.6zM629.33 352.60h2.6v2.6h-2.6zM634.00 191.20h2.6v2.6h-2.6zM638.67 340.60h2.6v2.6h-2.6zM643.33 371.20h2.6v2.6h-2.6zM648.00 324.80h2.6v2.6h-2.6zM652.67 338.00h2.6v2.6h-2.6zM657.33 226.20h2.6v2.6h-2.6zM662.00 349.90h2.6v2.6h-2.6zM666.67 249.20h2.6v2.6h-2.6zM671.33 257.30h2.6v2.6h-2.6zM676.00 315.50h2.6v2.6h-2.6zM680.67 269.00h2.6v2.6h-2.6zM685.33 285.30h2.6v2.6h-2.6zM690.00 301.10h2.6v2.6h-2.6zM694.67 361.40h2.6v2.6h-2.6zM699.33 383.30h2.6v2.6h-2.6zM704.00 364.10h2.6v2.6h-2.6zM708.67 359.10h2.6v2.6h-2.6zM713.33 367.20h2.6v2.6h-2.6zM718.00 382.10h2.6v2.6h-2.6zM722.67 378.90h2.6v2.6h-2.6zM727.33 388.30h2.6v2.6h-2.6zM732.00 398.70h2.6v2.6h-2.6zM736.67 398.80h2.6v2.6h-2.6zM741.33 404.20h2.6v2.6h-2.6zM746.00 409.70h2.6v2.6h-2.6zM750.67 406.30h2.6v2.6h-2.6zM755.33 403.80h2.6v2.6h-2.6zM760.00 409.20h2.6v2.6h-2.6zM764.67 407.70h2.6v2.6h-2.6zM769.33 408.70h2.6v2.6h-2.6zM774.00 411.80h2.6v2.6h-2.6zM778.67 412.90h2.6v2.6h-2.6zM783.33 415.00h2.6v2.6h-2.6zM788.00 416.80h2.6v2.6h-2.6zM792.67 415.30h2.6v2.6h-2.6zM797.33 415.90h2.6v2.6h-2.6zM802.00 415.50h2.6v2.6h-2.6zM806.67 417.10h2.6v2.6h-2.6zM811.33 418.60h2.6v2.6h-2.6zM816.00 418.50h2.6v2.6h-2.6zM820.67 422.00h2.6v2.6h-2.6zM825.33 423.20h2.6v2.6h-2.6zM830.00 424.10h2.6v2.6h-2.6z" fill="#cc00cc"/>
</g>
<defs><clipPath id="clip"><rect x="75" y="35" width="772" height="392"/></clipPath></defs>
<rect x="75.5" y="35.5" width="771" height="391" fill="none" stroke="#5c5c5c" stroke-width="1"/>
<path d="M71.5 35V427 M69 426.5H71 M69 401.5H71 M69 376.5H71 M69 351.5H71 M69 326.5H71 M69 301.5H71 M69 276.5H71 M69 251.5H71 M69 226.5H71 M69 201.5H71 M69 176.5H71 M69 151.5H71 M69 126.5H71 M69 102.5H71 M69 77.5H71 M69 52.5H71" stroke="#c0c0c0" stroke-width="1" fill="none"/>
<path d="M850.5 35V427 M851 426.5H853 M851 388.5H853 M851 351.5H853 M851 314.5H853 M851 276.5H853 M851 239.5H853 M851 201.5H853 M851 164.5H853 M851 127.5H853 M851 89.5H853 M851 52.5H853" stroke="#c0c0c0" stroke-width="1" fill="none"/>
<path d="M75 430.5H847 M75.5 431V433 M131.5 431V433 M187.5 431V433 M243.5 431V433 M299.5 431V433 M355.5 431V433 M411.5 431V433 M467.5 431V433 M523.5 431V433 M579.5 431V433 M635.5 431V433 M691.5 431V433 M747.5 431V433 M803.5 431V433" stroke="#c0c0c0" stroke-width="1" fill="none"/>
<rect x="121.5" y="477.5" width="657" height="21" fill="#fff" stroke="#000" stroke-width="1"/>
<path d="M124 488H140" stroke="#cc00cc" stroke-width="2"/><rect x="130.7" y="486.6" width="2.6" height="2.8" fill="#cc00cc"/>
<path d="M452 488H468" stroke="#0033cc" stroke-width="2"/><rect x="458.7" y="486.6" width="2.6" height="2.8" fill="#0033cc"/>
<g style="filter:grayscale(1)">
<text x="450.85" y="20.9" text-anchor="middle" font-size="21" font-weight="bold" fill="#000" textLength="109.2" lengthAdjust="spacingAndGlyphs">17-8-2015</text>
<text transform="translate(64.4 430.9) scale(0.93 1)" text-anchor="end" font-size="12" fill="#4a4a4a">0</text>
<text transform="translate(64.4 405.9) scale(0.93 1)" text-anchor="end" font-size="12" fill="#4a4a4a">200</text>
<text transform="translate(64.4 380.9) scale(0.93 1)" text-anchor="end" font-size="12" fill="#4a4a4a">400</text>
<text transform="translate(64.4 355.9) scale(0.93 1)" text-anchor="end" font-size="12" fill="#4a4a4a">600</text>
<text transform="translate(64.4 330.9) scale(0.93 1)" text-anchor="end" font-size="12" fill="#4a4a4a">800</text>
<text transform="translate(64.4 305.9) scale(0.93 1)" text-anchor="end" font-size="12" fill="#4a4a4a">1,000</text>
<text transform="translate(64.4 280.9) scale(0.93 1)" text-anchor="end" font-size="12" fill="#4a4a4a">1,200</text>
<text transform="translate(64.4 255.9) scale(0.93 1)" text-anchor="end" font-size="12" fill="#4a4a4a">1,400</text>
<text transform="translate(64.4 230.9) scale(0.93 1)" text-anchor="end" font-size="12" fill="#4a4a4a">1,600</text>
<text transform="translate(64.4 205.9) scale(0.93 1)" text-anchor="end" font-size="12" fill="#4a4a4a">1,800</text>
<text transform="translate(64.4 180.9) scale(0.93 1)" text-anchor="end" font-size="12" fill="#4a4a4a">2,000</text>
<text transform="translate(64.4 155.9) scale(0.93 1)" text-anchor="end" font-size="12" fill="#4a4a4a">2,200</text>
<text transform="translate(64.4 130.9) scale(0.93 1)" text-anchor="end" font-size="12" fill="#4a4a4a">2,400</text>
<text transform="translate(64.4 106.9) scale(0.93 1)" text-anchor="end" font-size="12" fill="#4a4a4a">2,600</text>
<text transform="translate(64.4 81.9) scale(0.93 1)" text-anchor="end" font-size="12" fill="#4a4a4a">2,800</text>
<text transform="translate(64.4 56.9) scale(0.93 1)" text-anchor="end" font-size="12" fill="#4a4a4a">3,000</text>
<text x="855.3" y="430.0" font-size="10" fill="#000">0</text>
<text x="855.3" y="392.6" font-size="10" fill="#000">5</text>
<text x="855.3" y="355.2" font-size="10" fill="#000">10</text>
<text x="855.3" y="317.8" font-size="10" fill="#000">15</text>
<text x="855.3" y="280.4" font-size="10" fill="#000">20</text>
<text x="855.3" y="243.0" font-size="10" fill="#000">25</text>
<text x="855.3" y="205.6" font-size="10" fill="#000">30</text>
<text x="855.3" y="168.2" font-size="10" fill="#000">35</text>
<text x="855.3" y="130.8" font-size="10" fill="#000">40</text>
<text x="855.3" y="93.4" font-size="10" fill="#000">45</text>
<text x="855.3" y="56.0" font-size="10" fill="#000">50</text>
<text transform="translate(75.0 446.1) scale(0.93 1)" text-anchor="middle" font-size="12" fill="#4a4a4a">07:00</text>
<text transform="translate(131.0 446.1) scale(0.93 1)" text-anchor="middle" font-size="12" fill="#4a4a4a">08:00</text>
<text transform="translate(187.0 446.1) scale(0.93 1)" text-anchor="middle" font-size="12" fill="#4a4a4a">09:00</text>
<text transform="translate(243.0 446.1) scale(0.93 1)" text-anchor="middle" font-size="12" fill="#4a4a4a">10:00</text>
<text transform="translate(299.0 446.1) scale(0.93 1)" text-anchor="middle" font-size="12" fill="#4a4a4a">11:00</text>
<text transform="translate(355.0 446.1) scale(0.93 1)" text-anchor="middle" font-size="12" fill="#4a4a4a">12:00</text>
<text transform="translate(411.0 446.1) scale(0.93 1)" text-anchor="middle" font-size="12" fill="#4a4a4a">13:00</text>
<text transform="translate(467.0 446.1) scale(0.93 1)" text-anchor="middle" font-size="12" fill="#4a4a4a">14:00</text>
<text transform="translate(523.0 446.1) scale(0.93 1)" text-anchor="middle" font-size="12" fill="#4a4a4a">15:00</text>
<text transform="translate(579.0 446.1) scale(0.93 1)" text-anchor="middle" font-size="12" fill="#4a4a4a">16:00</text>
<text transform="translate(635.0 446.1) scale(0.93 1)" text-anchor="middle" font-size="12" fill="#4a4a4a">17:00</text>
<text transform="translate(691.0 446.1) scale(0.93 1)" text-anchor="middle" font-size="12" fill="#4a4a4a">18:00</text>
<text transform="translate(747.0 446.1) scale(0.93 1)" text-anchor="middle" font-size="12" fill="#4a4a4a">19:00</text>
<text transform="translate(803.0 446.1) scale(0.93 1)" text-anchor="middle" font-size="12" fill="#4a4a4a">20:00</text>
<text transform="translate(24.8 231.2) rotate(-90)" text-anchor="middle" font-size="14" fill="#333" stroke="#333" stroke-width="0.45">Watt</text>
<text transform="translate(884.8 230.3) rotate(-90)" text-anchor="middle" font-size="12" fill="#000" stroke="#000" stroke-width="0.35">%</text>
<text transform="translate(460.65 464.7) scale(0.93 1)" text-anchor="middle" font-size="14" fill="#333" stroke="#333" stroke-width="0.45">time</text>
<text transform="translate(142.4 492.7) scale(0.93 1)" font-size="12" fill="#4a4a4a">SB3000TL-20-SN2100578613_21panels( 14.610 kWh )</text>
<text transform="translate(470.4 492.7) scale(0.93 1)" font-size="12" fill="#4a4a4a">SB3000TL-21-SN2130032031_19panels( 13.970 kWh )</text>
</g>
</svg></body></html>
